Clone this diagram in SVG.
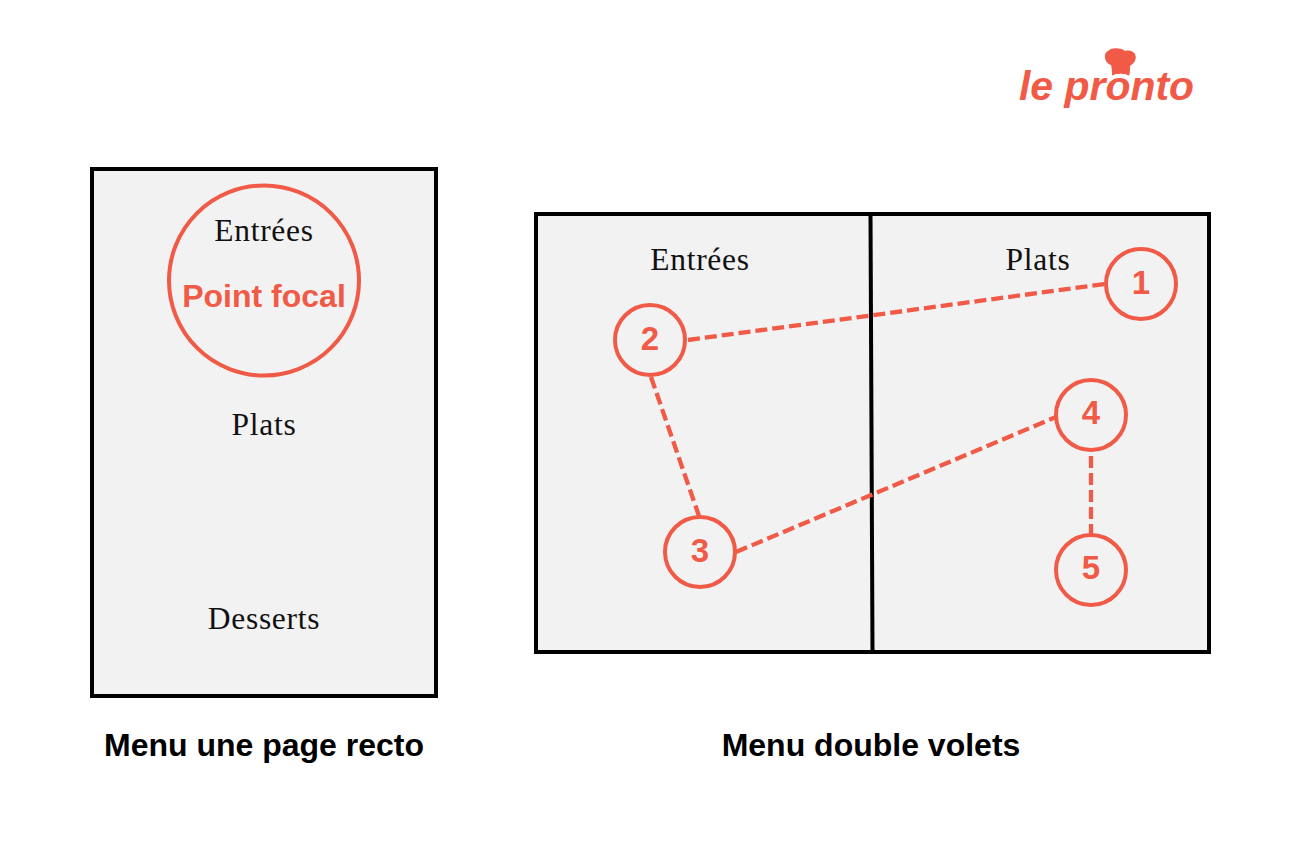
<svg xmlns="http://www.w3.org/2000/svg" width="1300" height="867" viewBox="0 0 1300 867">
<style>
.page{fill:#f2f2f2;stroke:#000;stroke-width:4}
.div{stroke:#000;stroke-width:4;fill:none}
.ring{fill:none;stroke:#f05a47;stroke-width:4}
.link{stroke:#f05a47;stroke-width:4.300;stroke-dasharray:12 5;fill:none}
.serif{font-family:"Liberation Serif",serif;font-size:31.500px;fill:#111;text-anchor:middle;letter-spacing:.7px}
.num{font-family:"Liberation Sans",Arial,sans-serif;font-weight:700;font-size:33px;fill:#f05a47;text-anchor:middle}
.focal{font-size:32px}
.cap{font-family:"Liberation Sans",Arial,sans-serif;font-weight:700;font-size:32px;fill:#000;text-anchor:middle}
.logo{font-family:"Liberation Sans",Arial,sans-serif;font-weight:700;font-style:italic;font-size:40px;fill:#f05a47}
</style>
<rect width="1300" height="867" fill="#fff"/>
<g id="logo">
<text class="logo" x="1019" y="100" textLength="175" lengthAdjust="spacingAndGlyphs">le pronto</text>
<path d="M1112 76 C1112 72 1112 69 1111 65 C1104 63 1103 53 1108 51 C1112 47 1122 48 1125 51 C1132 49 1138 54 1135 61 C1133 64 1131 65 1130 66 C1130 70 1130 73 1129 76 C1124 73 1117 73 1112 76Z" fill="#f05a47"/>
<path d="M1111 77 C1117 74 1124 74 1130 77" fill="none" stroke="#fff" stroke-width="1.500"/>
</g>
<g id="menu-recto">
<rect class="page" x="92" y="169" width="344" height="527"/>
<circle class="ring" cx="264" cy="280.500" r="95"/>
<text class="serif" x="264" y="241">Entrées</text>
<text class="num focal" x="264" y="307">Point focal</text>
<text class="serif" x="264" y="435">Plats</text>
<text class="serif" x="264" y="629">Desserts</text>
<text class="cap" x="264" y="756">Menu une page recto</text>
</g>
<g id="menu-double">
<rect class="page" x="536" y="214" width="673" height="438"/>
<path class="div" d="M870.500 214L872.500 652"/>
<text class="serif" x="700" y="270">Entrées</text>
<text class="serif" x="1038" y="270">Plats</text>
<text class="cap" x="871" y="756">Menu double volets</text>
</g>
<g id="connectors">
<path class="link" d="M688 340L1105 284"/>
<path class="link" d="M651 377L699 516"/>
<path class="link" d="M736 552L1056 417"/>
<path class="link" d="M1091 456L1091 534"/>
</g>
<g id="n1"><circle class="ring" cx="1141" cy="284" r="35"/><text class="num" x="1141" y="294">1</text></g>
<g id="n2"><circle class="ring" cx="650" cy="340" r="35"/><text class="num" x="650" y="350">2</text></g>
<g id="n3"><circle class="ring" cx="700" cy="552" r="35"/><text class="num" x="700" y="562">3</text></g>
<g id="n4"><circle class="ring" cx="1091" cy="415" r="35"/><text class="num" x="1091" y="424">4</text></g>
<g id="n5"><circle class="ring" cx="1091" cy="570" r="35"/><text class="num" x="1091" y="579">5</text></g>
</svg>
